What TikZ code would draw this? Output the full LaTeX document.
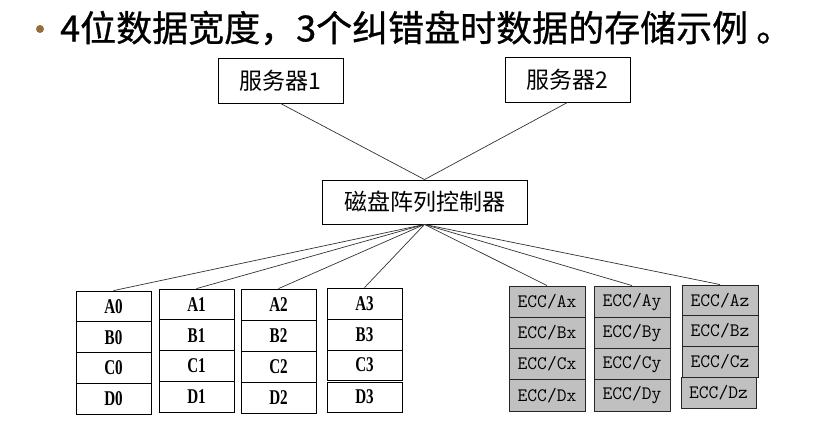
\documentclass[tikz,border=0pt]{standalone}
\usepackage{fontspec}
\setmainfont{Liberation Serif}
\newfontfamily\cjk{Noto Sans CJK SC}
\newfontfamily\titlecjk[FakeBold=0.8]{Noto Sans CJK SC}
\definecolor{bulletbrown}{RGB}{150,110,60}
\definecolor{eccgray}{RGB}{192,192,192}
\definecolor{linegray}{RGB}{50,50,50}
\newcommand{\narrowtxt}[1]{\scalebox{0.72}[1]{\bfseries #1}}
\begin{document}
\begin{tikzpicture}[x=1pt,y=-1pt,
  boxstyle/.style={draw=black,line width=0.9pt,fill=white,inner sep=0pt,font=\cjk\fontsize{23}{26}\selectfont},
  cell/.style={draw=black,line width=0.8pt,fill=white,inner sep=0pt,minimum width=75pt,font=\fontsize{21}{23}\selectfont},
  ecc/.style={draw=black!85,line width=0.8pt,fill=eccgray,inner sep=0pt,minimum width=76pt,font=\ttfamily\fontsize{19}{21}\selectfont},
  wire/.style={draw=linegray,line width=0.7pt}]
\useasboundingbox (0,0) rectangle (821,425);
% title
\fill[bulletbrown] (40,29) circle (4pt);
\node[anchor=west,inner sep=0pt,font=\titlecjk\fontsize{36}{39}\selectfont] (title) at (60,28) {4位数据宽度，3个纠错盘时数据的存储示例 。};
% servers and controller
\node[boxstyle,minimum width=125pt,minimum height=45pt] (s1) at (280.5,80.5) {服务器1};
\node[boxstyle,minimum width=125pt,minimum height=45pt] (s2) at (567.5,79.5) {服务器2};
\node[boxstyle,minimum width=205pt,minimum height=44pt] (ctrl) at (424.5,202) {磁盘阵列控制器};
\draw[wire] (s1.south) -- (ctrl.north);
\draw[wire] (s2.south) -- (ctrl.north);
% data columns
\foreach \name/\cx/\top/\h/\idx in {c0/113.5/291/30.75/0, c1/196.5/289/30.75/1, c2/278.5/289/31/2}{
  \node[cell,minimum height=\h pt] (\name a) at (\cx,\top+0.5*\h) {\narrowtxt{A\idx}};
  \node[cell,minimum height=\h pt] (\name b) at (\cx,\top+1.5*\h) {\narrowtxt{B\idx}};
  \node[cell,minimum height=\h pt] (\name c) at (\cx,\top+2.5*\h) {\narrowtxt{C\idx}};
  \node[cell,minimum height=\h pt] (\name d) at (\cx,\top+3.5*\h) {\narrowtxt{D\idx}};
}
\node[cell,minimum height=31pt] (c3a) at (364.5,303.5) {\narrowtxt{A3}};
\node[cell,minimum height=31pt] (c3b) at (364.5,334.5) {\narrowtxt{B3}};
\node[cell,minimum height=30pt] (c3c) at (364.5,365) {\narrowtxt{C3}};
\node[cell,minimum height=30pt] (c3d) at (364.5,397) {\narrowtxt{D3}};
% ECC columns
\foreach \name/\cx/\suf in {ex/547/x, ey/632/y}{
  \node[ecc,minimum height=31.25pt] (\name a) at (\cx,301.6) {ECC/A\suf};
  \node[ecc,minimum height=31.25pt] (\name b) at (\cx,332.9) {ECC/B\suf};
  \node[ecc,minimum height=31.25pt] (\name c) at (\cx,364.1) {ECC/C\suf};
  \node[ecc,minimum height=31.25pt] (\name d) at (\cx,395.4) {ECC/D\suf};
}
\node[ecc,minimum height=30.7pt] (eza) at (720,300.3) {ECC/Az};
\node[ecc,minimum height=30.7pt] (ezb) at (720,331) {ECC/Bz};
\node[ecc,minimum height=30.7pt] (ezc) at (720,361.7) {ECC/Cz};
\node[ecc,minimum height=31pt,minimum width=75pt] (ezd) at (718.5,392.5) {ECC/Dz};
% wires from controller
\foreach \t in {c0a,c1a,c2a,c3a,exa,eya,eza}{
  \draw[wire] (ctrl.south) -- (\t.north);
}
\end{tikzpicture}
\end{document}
